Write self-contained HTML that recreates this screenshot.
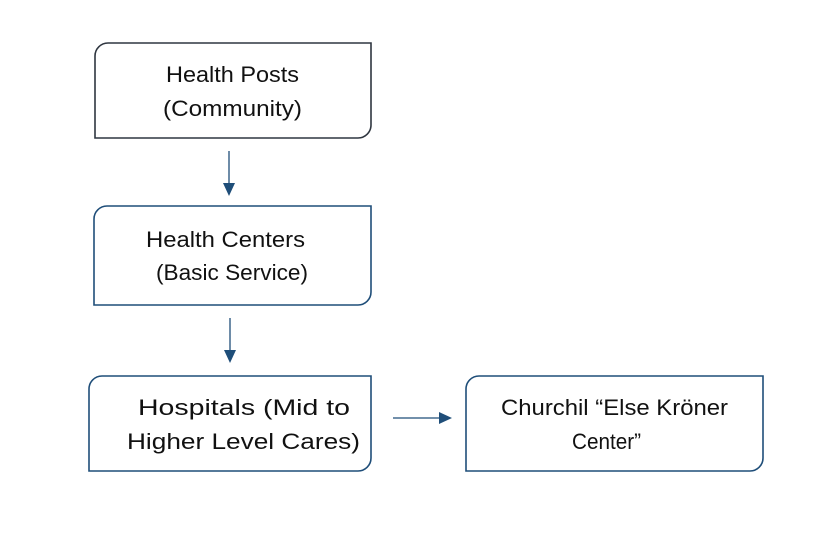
<!DOCTYPE html>
<html><head><style>html,body{margin:0;padding:0;background:#fff}</style></head>
<body>
<svg width="821" height="551" xmlns="http://www.w3.org/2000/svg" font-family="Liberation Sans, sans-serif" font-size="22" fill="#111">
<g fill="none" stroke-width="1.6">
<path d="M108,43 H371 V125 A13,13 0 0 1 358,138 H95 V56 A13,13 0 0 1 108,43 Z" stroke="#2f3640"/>
<path d="M107,206 H371 V292 A13,13 0 0 1 358,305 H94 V219 A13,13 0 0 1 107,206 Z" stroke="#1f4e79"/>
<path d="M102,376 H371 V458 A13,13 0 0 1 358,471 H89 V389 A13,13 0 0 1 102,376 Z" stroke="#1f4e79"/>
<path d="M479,376 H763 V458 A13,13 0 0 1 750,471 H466 V389 A13,13 0 0 1 479,376 Z" stroke="#1f4e79"/>
<line x1="229" y1="151" x2="229" y2="184" stroke="#1f4e79" stroke-width="1.3"/>
<line x1="230" y1="318" x2="230" y2="351" stroke="#1f4e79" stroke-width="1.3"/>
<line x1="393" y1="418" x2="440" y2="418" stroke="#1f4e79" stroke-width="1.3"/>
</g>
<g fill="#1f4e79">
<polygon points="223,183 235,183 229,196"/>
<polygon points="224,350 236,350 230,363"/>
<polygon points="439,412 439,424 452,418"/>
</g>
<g lengthAdjust="spacingAndGlyphs">
<text x="166" y="82" textLength="133" lengthAdjust="spacingAndGlyphs">Health Posts</text>
<text x="163" y="116" textLength="139" lengthAdjust="spacingAndGlyphs">(Community)</text>
<text x="146" y="247" textLength="159" lengthAdjust="spacingAndGlyphs">Health Centers</text>
<text x="156" y="280" textLength="152" lengthAdjust="spacingAndGlyphs">(Basic Service)</text>
<text x="138" y="415" textLength="212" lengthAdjust="spacingAndGlyphs">Hospitals (Mid to</text>
<text x="127" y="449" textLength="233" lengthAdjust="spacingAndGlyphs">Higher Level Cares)</text>
<text x="501" y="415" textLength="227" lengthAdjust="spacingAndGlyphs">Churchil “Else Kröner</text>
<text x="572" y="449" textLength="69" lengthAdjust="spacingAndGlyphs">Center”</text>
</g>
</svg>
</body></html>
